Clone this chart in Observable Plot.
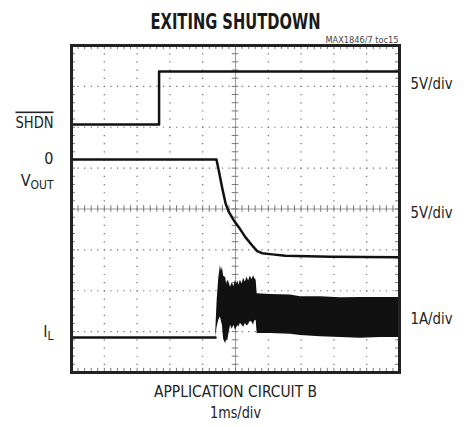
<!DOCTYPE html>
<html><head><meta charset="utf-8">
<script src="https://cdn.jsdelivr.net/npm/d3@7"></script>
<script src="https://cdn.jsdelivr.net/npm/@observablehq/plot@0.6"></script>
<style>html,body{margin:0;padding:0;background:#fff;}</style>
</head><body><div id="chart"></div>
<script>
// ---- data (time in ms, 1 ms/div) ----
const shdnTime  = [0, 2.67, 2.67, 10];
const shdnVolts = [0, 0, 6.48, 6.48];

const voutTime  = [0, 4.42, 4.49, 4.59, 4.70, 4.80, 4.95, 5.10, 5.30, 5.51, 5.66, 5.81, 6.12, 6.52, 7.9, 10];
const voutVolts = [0, 0, -1.34, -3.38, -5.41, -6.44, -7.45, -8.27, -9.49, -10.51, -11.2, -11.45, -11.6, -11.77, -11.9, -11.94];

const ilBaseTime = [0, 4.39];
const ilBaseAmps = [0, 0];
const ilTime   = [4.39, 4.44, 4.49, 4.54, 4.57, 4.60, 4.64, 4.70, 4.73, 4.76, 4.80, 4.85, 4.90, 4.95, 5.00, 5.03, 5.07, 5.10, 5.15, 5.20, 5.25, 5.30, 5.35, 5.40, 5.45, 5.51, 5.55, 5.58, 5.63, 5.66, 6.07, 6.68, 6.98, 7.59, 8.2, 8.81, 9.42, 10];
const ilTop    = [0, 0.9, 1.45, 1.76, 1.62, 1.72, 1.5, 1.47, 1.3, 1.4, 1.35, 1.23, 1.34, 1.25, 1.4, 1.3, 1.38, 1.28, 1.4, 1.31, 1.45, 1.35, 1.48, 1.38, 1.5, 1.42, 1.52, 1.45, 1.4, 1.07, 1.05, 1.04, 1.0, 1.0, 0.97, 0.98, 0.98, 0.98];
const ilBottom = [0, 0.25, 0.42, 0.5, 0.4, 0.3, -0.05, -0.15, -0.05, -0.1, 0.1, 0.3, 0.2, 0.3, 0.18, 0.22, 0.3, 0.25, 0.35, 0.3, 0.25, 0.34, 0.28, 0.32, 0.4, 0.37, 0.3, 0.4, 0.42, 0.1, 0.1, 0.08, 0.05, 0.02, 0.0, -0.02, 0.0, 0.0];

const xDivs = [0,1,2,3,4,5,6,7,8,9,10];
const yDivs = [0,1,2,3,4,5,6,7,8];
const leftLabels  = ["SHDN", "0", "VOUT", "IL"];
const rightLabels = ["5V/div", "5V/div", "1A/div"];
const titleText = "EXITING SHUTDOWN";
const noteText = "MAX1846/7 toc15";
const xLabel1 = "APPLICATION CIRCUIT B";
const xLabel2 = "1ms/div";

// ---- channel display settings (ground level in divisions, units per division) ----
const ch = {
  shdn: {offset: 6.07, perDiv: 5},
  vout: {offset: 5.21, perDiv: 5},
  il:   {offset: 0.856, perDiv: 1}
};

const minorX = d3.range(0, 10.001, 0.2);
const minorY = d3.range(0, 8.001, 0.2);

const FONT = "'Liberation Sans Narrow','DejaVu Sans Condensed','Liberation Sans',sans-serif";
const INK = "#111";
const GRID = "#6a6a6a";
const TXT = "#222";

const zip = (ts, vs) => ts.map((t, i) => ({t, v: vs[i]}));
const shdn = zip(shdnTime, shdnVolts);
const vout = zip(voutTime, voutVolts);
const ilBase = zip(ilBaseTime, ilBaseAmps);
const ilEnv = ilTime.map((t, i) => ({t, top: ilTop[i], bot: ilBottom[i]}));

const ys = (c) => (d) => c.offset + d.v / c.perDiv;
const lbl = (s, o) => Plot.text([s], {text: d => d, fontSize: 16, fill: TXT, fontFamily: FONT, ...o});

const plot = Plot.plot({
  width: 471, height: 427,
  marginLeft: 71, marginRight: 72, marginTop: 45, marginBottom: 55,
  x: {domain: [0, 10], axis: null},
  y: {domain: [0, 8], axis: null},
  style: {background: "#fff", fontFamily: FONT},
  marks: [
    // dotted grid
    Plot.ruleY(yDivs.filter(d => d > 0 && d < 8 && d !== 4), {stroke: GRID, strokeWidth: 1.2, strokeDasharray: "1.2,5.36"}),
    Plot.ruleX(xDivs.filter(d => d > 0 && d < 10 && d !== 5), {stroke: GRID, strokeWidth: 1.2, strokeDasharray: "1.2,6.975"}),
    // center cross
    Plot.ruleY([4], {stroke: "#9a9a9a", strokeWidth: 1}),
    Plot.ruleX([5], {stroke: "#9a9a9a", strokeWidth: 1}),
    Plot.ruleX(minorX, {y1: 4 - 0.08, y2: 4 + 0.08, stroke: "#777", strokeWidth: 1}),
    Plot.ruleY(minorY, {x1: 5 - 0.1, x2: 5 + 0.1, stroke: "#777", strokeWidth: 1}),
    // frame edge ticks
    Plot.ruleX(minorX, {y1: 8, y2: 7.9, stroke: "#777", strokeWidth: 1}),
    Plot.ruleX(minorX, {y1: 0, y2: 0.1, stroke: "#777", strokeWidth: 1}),
    Plot.ruleY(minorY, {x1: 0, x2: 0.12, stroke: "#777", strokeWidth: 1}),
    Plot.ruleY(minorY, {x1: 10, x2: 9.88, stroke: "#777", strokeWidth: 1}),
    // traces
    Plot.areaY(ilEnv, {x: "t", y1: d => ch.il.offset + d.bot / ch.il.perDiv, y2: d => ch.il.offset + d.top / ch.il.perDiv, fill: INK}),
    Plot.line(ilBase, {x: "t", y: ys(ch.il), stroke: INK, strokeWidth: 2.5}),
    Plot.line(shdn, {x: "t", y: ys(ch.shdn), stroke: INK, strokeWidth: 2.5}),
    Plot.line(vout, {x: "t", y: ys(ch.vout), stroke: INK, strokeWidth: 2.5}),
    Plot.frame({stroke: "#222", strokeWidth: 3}),
    // texts
    lbl(titleText, {frameAnchor: "top", dy: -30, fontSize: 16.5, fontWeight: "bold", fill: "#1a1a1a"}),
    lbl(noteText, {frameAnchor: "top-right", textAnchor: "end", dx: -1, dy: -9, fontSize: 9, fill: "#444"}),
    lbl(xLabel1, {frameAnchor: "bottom", dy: 24.5}),
    lbl(xLabel2, {frameAnchor: "bottom", dy: 45}),
    lbl(leftLabels[0], {frameAnchor: "left", y: ch.shdn.offset, textAnchor: "end", dx: -18, dy: -2}),
    lbl(leftLabels[1], {frameAnchor: "left", y: ch.vout.offset, textAnchor: "end", dx: -18, dy: -1}),
    lbl(leftLabels[2], {frameAnchor: "left", y: ch.vout.offset, textAnchor: "end", dx: -18, dy: 21}),
    lbl(leftLabels[3], {frameAnchor: "left", y: ch.il.offset, textAnchor: "end", dx: -18, dy: -6}),
    lbl(rightLabels[0], {frameAnchor: "right", y: 7.07, textAnchor: "start", dx: 11}),
    lbl(rightLabels[1], {frameAnchor: "right", y: 3.91, textAnchor: "start", dx: 11}),
    lbl(rightLabels[2], {frameAnchor: "right", y: 1.32, textAnchor: "start", dx: 11})
  ]
});

document.getElementById("chart").appendChild(plot);

// typographic touches: overline, subscripts, condensed widths like the original
const widths = {"EXITING SHUTDOWN": 170, "APPLICATION CIRCUIT B": 163, "1ms/div": 51, "5V/div": 42, "1A/div": 42, "SHDN": 38, "MAX1846/7 toc15": 73};
d3.select(plot).selectAll("text").each(function() {
  const el = d3.select(this);
  const s = el.text();
  if (s === "SHDN") el.style("text-decoration", "overline");
  if (s === "VOUT" || s === "IL") {
    const main = s.slice(0, 1), sub = s.slice(1);
    el.text(null);
    el.append("tspan").text(main);
    el.append("tspan").attr("font-size", 12).attr("dy", "0.3em").text(sub);
  }
  if (widths[s]) el.attr("textLength", widths[s]).attr("lengthAdjust", "spacingAndGlyphs");
  if (s === titleText) {
    const b = this.getBBox();
    const cy = b.y + b.height / 2;
    const tr = el.attr("transform") || "";
    el.attr("transform", `${tr} translate(0,${cy}) scale(1,1.3) translate(0,${-cy})`);
  }
});
</script>
</body></html>
